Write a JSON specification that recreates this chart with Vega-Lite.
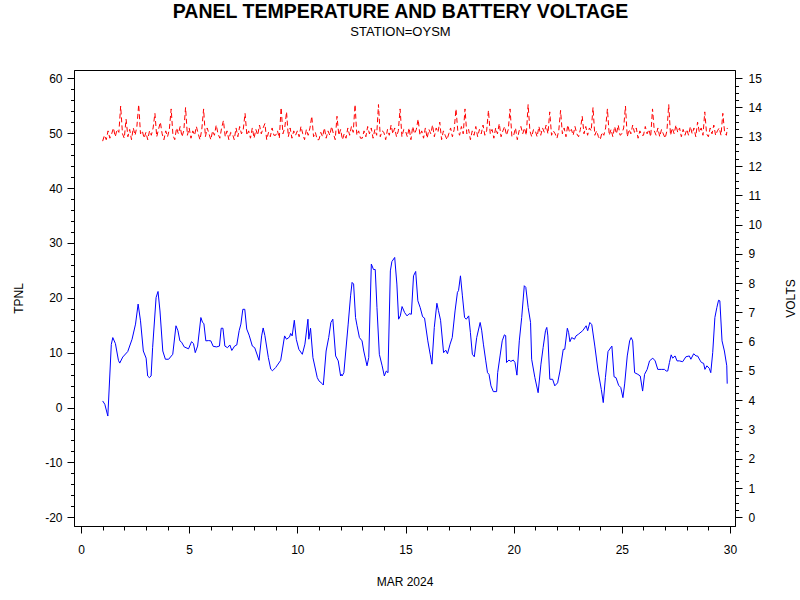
{
"$schema": "https://vega.github.io/schema/vega-lite/v6.json",
"width": 661,
"height": 456,
"autosize": {"type": "none"},
"padding": {"left": 74, "top": 70, "right": 65, "bottom": 74},
"background": "white",
"title": {"text": "PANEL TEMPERATURE AND BATTERY VOLTAGE", "subtitle": "STATION=OYSM", "font": "Liberation Sans", "fontSize": 19.5, "fontWeight": "bold", "color": "black", "subtitleFont": "Liberation Sans", "subtitleFontSize": 13, "subtitleColor": "black", "anchor": "middle", "offset": 30, "subtitlePadding": 4, "dx": -4},
"config": {
  "view": {"stroke": "black", "strokeWidth": 1},
  "axis": {"grid": false, "domainColor": "black", "domainWidth": 1, "tickColor": "black", "tickWidth": 1, "labelColor": "black", "labelFont": "Liberation Sans", "labelFontSize": 12, "titleFont": "Liberation Sans", "titleFontSize": 12, "titleFontWeight": "normal", "titleColor": "black", "labelOverlap": false, "labelFlush": false, "labelBound": false}
},
"datasets": {
"temp": [
{"d":1.0,"t":1.2},{"d":1.1,"t":0.6},{"d":1.24,"t":-1.55},{"d":1.4,"t":11.5},{"d":1.47,"t":12.75},{"d":1.59,"t":11.65},{"d":1.73,"t":8.6},{"d":1.79,"t":8.1},{"d":1.93,"t":9.2},{"d":2.16,"t":10.2},{"d":2.36,"t":12.45},{"d":2.52,"t":15.2},{"d":2.64,"t":18.85},{"d":2.75,"t":15.8},{"d":2.88,"t":10.3},{"d":3.01,"t":9.0},{"d":3.08,"t":5.75},{"d":3.16,"t":5.45},{"d":3.24,"t":5.75},{"d":3.31,"t":10.9},{"d":3.47,"t":20.05},{"d":3.56,"t":21.15},{"d":3.65,"t":17.6},{"d":3.78,"t":10.3},{"d":3.9,"t":8.8},{"d":4.05,"t":8.8},{"d":4.24,"t":9.7},{"d":4.39,"t":14.9},{"d":4.48,"t":14.0},{"d":4.57,"t":12.15},{"d":4.65,"t":11.9},{"d":4.77,"t":11.05},{"d":4.97,"t":10.7},{"d":5.11,"t":12.0},{"d":5.2,"t":11.65},{"d":5.28,"t":10.0},{"d":5.39,"t":11.2},{"d":5.54,"t":16.4},{"d":5.62,"t":15.5},{"d":5.68,"t":15.3},{"d":5.77,"t":12.15},{"d":5.9,"t":12.2},{"d":6.0,"t":12.15},{"d":6.11,"t":11.15},{"d":6.27,"t":11.05},{"d":6.4,"t":11.2},{"d":6.48,"t":14.45},{"d":6.56,"t":14.45},{"d":6.65,"t":11.2},{"d":6.77,"t":10.9},{"d":6.88,"t":11.4},{"d":6.97,"t":10.4},{"d":7.1,"t":11.2},{"d":7.2,"t":11.4},{"d":7.31,"t":14.0},{"d":7.39,"t":15.2},{"d":7.48,"t":17.9},{"d":7.57,"t":17.9},{"d":7.66,"t":14.3},{"d":7.77,"t":13.2},{"d":7.92,"t":11.2},{"d":8.03,"t":10.9},{"d":8.23,"t":8.6},{"d":8.35,"t":13.05},{"d":8.42,"t":14.5},{"d":8.5,"t":13.1},{"d":8.66,"t":9.1},{"d":8.77,"t":7.0},{"d":8.85,"t":6.7},{"d":9.0,"t":7.3},{"d":9.23,"t":8.6},{"d":9.3,"t":10.3},{"d":9.41,"t":13.05},{"d":9.5,"t":12.45},{"d":9.64,"t":12.85},{"d":9.69,"t":13.5},{"d":9.76,"t":13.05},{"d":9.86,"t":15.9},{"d":9.95,"t":12.45},{"d":10.07,"t":10.6},{"d":10.23,"t":9.7},{"d":10.35,"t":11.55},{"d":10.49,"t":16.1},{"d":10.53,"t":12.45},{"d":10.61,"t":14.45},{"d":10.72,"t":9.1},{"d":10.92,"t":5.45},{"d":11.0,"t":4.85},{"d":11.15,"t":4.35},{"d":11.2,"t":4.1},{"d":11.33,"t":10.3},{"d":11.45,"t":12.75},{"d":11.55,"t":15.5},{"d":11.64,"t":16.1},{"d":11.77,"t":9.4},{"d":11.89,"t":8.5},{"d":12.0,"t":5.75},{"d":12.03,"t":6.05},{"d":12.07,"t":5.75},{"d":12.15,"t":6.35},{"d":12.35,"t":15.2},{"d":12.46,"t":20.35},{"d":12.53,"t":22.8},{"d":12.6,"t":22.5},{"d":12.69,"t":16.4},{"d":12.76,"t":14.9},{"d":12.87,"t":12.75},{"d":12.99,"t":12.15},{"d":13.07,"t":10.3},{"d":13.22,"t":7.6},{"d":13.3,"t":9.1},{"d":13.42,"t":26.15},{"d":13.52,"t":25.15},{"d":13.6,"t":25.15},{"d":13.68,"t":18.2},{"d":13.79,"t":9.7},{"d":13.92,"t":7.6},{"d":14.02,"t":5.75},{"d":14.11,"t":6.65},{"d":14.19,"t":6.35},{"d":14.3,"t":24.9},{"d":14.37,"t":26.6},{"d":14.5,"t":27.35},{"d":14.6,"t":22.5},{"d":14.68,"t":16.1},{"d":14.76,"t":16.7},{"d":14.84,"t":18.4},{"d":14.96,"t":17.3},{"d":15.07,"t":16.7},{"d":15.17,"t":17.1},{"d":15.27,"t":17.0},{"d":15.37,"t":24.0},{"d":15.47,"t":24.8},{"d":15.57,"t":19.45},{"d":15.68,"t":18.2},{"d":15.79,"t":16.55},{"d":15.88,"t":16.3},{"d":16.03,"t":12.15},{"d":16.14,"t":9.7},{"d":16.22,"t":7.9},{"d":16.33,"t":14.6},{"d":16.45,"t":19.0},{"d":16.52,"t":17.7},{"d":16.62,"t":15.9},{"d":16.76,"t":10.0},{"d":16.86,"t":10.45},{"d":16.94,"t":9.8},{"d":17.06,"t":11.55},{"d":17.16,"t":12.75},{"d":17.29,"t":17.6},{"d":17.4,"t":21.0},{"d":17.45,"t":21.3},{"d":17.54,"t":24.0},{"d":17.63,"t":20.35},{"d":17.73,"t":16.4},{"d":17.81,"t":16.1},{"d":17.92,"t":16.7},{"d":18.0,"t":13.65},{"d":18.09,"t":9.7},{"d":18.18,"t":9.25},{"d":18.29,"t":12.75},{"d":18.45,"t":15.5},{"d":18.52,"t":14.1},{"d":18.6,"t":11.55},{"d":18.71,"t":8.5},{"d":18.79,"t":6.35},{"d":18.86,"t":6.05},{"d":18.95,"t":3.95},{"d":19.06,"t":2.9},{"d":19.21,"t":2.9},{"d":19.26,"t":6.35},{"d":19.37,"t":9.4},{"d":19.47,"t":12.15},{"d":19.57,"t":13.25},{"d":19.63,"t":13.1},{"d":19.67,"t":8.2},{"d":19.78,"t":8.65},{"d":19.87,"t":8.4},{"d":19.98,"t":8.65},{"d":20.06,"t":8.2},{"d":20.15,"t":5.9},{"d":20.26,"t":12.15},{"d":20.37,"t":16.4},{"d":20.49,"t":22.2},{"d":20.56,"t":21.9},{"d":20.67,"t":18.2},{"d":20.78,"t":15.5},{"d":20.83,"t":8.8},{"d":20.98,"t":5.45},{"d":21.13,"t":2.7},{"d":21.26,"t":7.9},{"d":21.36,"t":10.9},{"d":21.47,"t":14.0},{"d":21.53,"t":14.6},{"d":21.58,"t":13.05},{"d":21.67,"t":5.15},{"d":21.8,"t":5.15},{"d":21.9,"t":3.95},{"d":22.03,"t":4.5},{"d":22.14,"t":6.65},{"d":22.29,"t":10.6},{"d":22.36,"t":10.6},{"d":22.48,"t":14.45},{"d":22.54,"t":13.65},{"d":22.6,"t":12.0},{"d":22.68,"t":12.75},{"d":22.81,"t":12.45},{"d":22.88,"t":13.05},{"d":22.99,"t":13.35},{"d":23.19,"t":14.0},{"d":23.35,"t":14.9},{"d":23.42,"t":14.0},{"d":23.52,"t":15.5},{"d":23.61,"t":15.1},{"d":23.75,"t":11.2},{"d":23.9,"t":6.65},{"d":24.05,"t":3.3},{"d":24.14,"t":0.9},{"d":24.24,"t":5.45},{"d":24.36,"t":10.2},{"d":24.51,"t":11.05},{"d":24.54,"t":11.2},{"d":24.64,"t":5.6},{"d":24.73,"t":5.45},{"d":24.85,"t":4.05},{"d":24.95,"t":3.65},{"d":25.05,"t":1.8},{"d":25.13,"t":4.3},{"d":25.25,"t":9.4},{"d":25.36,"t":12.15},{"d":25.43,"t":12.75},{"d":25.5,"t":12.15},{"d":25.59,"t":6.35},{"d":25.74,"t":6.05},{"d":25.85,"t":5.75},{"d":25.96,"t":3.0},{"d":26.05,"t":6.05},{"d":26.17,"t":6.95},{"d":26.28,"t":8.5},{"d":26.43,"t":9.0},{"d":26.54,"t":8.5},{"d":26.66,"t":6.95},{"d":26.82,"t":6.95},{"d":26.97,"t":6.95},{"d":27.05,"t":6.65},{"d":27.12,"t":6.65},{"d":27.2,"t":8.2},{"d":27.28,"t":9.6},{"d":27.35,"t":9.0},{"d":27.46,"t":9.4},{"d":27.55,"t":8.5},{"d":27.66,"t":8.5},{"d":27.81,"t":8.35},{"d":27.96,"t":9.25},{"d":28.12,"t":9.4},{"d":28.19,"t":8.8},{"d":28.32,"t":9.8},{"d":28.43,"t":9.4},{"d":28.5,"t":9.4},{"d":28.63,"t":8.5},{"d":28.68,"t":8.2},{"d":28.78,"t":8.05},{"d":28.84,"t":6.95},{"d":28.93,"t":7.6},{"d":29.04,"t":7.15},{"d":29.11,"t":6.35},{"d":29.2,"t":10.0},{"d":29.3,"t":16.4},{"d":29.39,"t":18.2},{"d":29.47,"t":19.55},{"d":29.53,"t":19.45},{"d":29.63,"t":12.15},{"d":29.74,"t":10.3},{"d":29.85,"t":7.6},{"d":29.87,"t":4.35}
],
"volt": [
{"d":1,"v":12.85},{"d":1.083,"v":13.05},{"d":1.167,"v":12.9},{"d":1.25,"v":13.2},{"d":1.333,"v":12.95},{"d":1.417,"v":13.1},{"d":1.5,"v":13.3},{"d":1.583,"v":13.0},{"d":1.667,"v":13.25},{"d":1.75,"v":13.15},{"d":1.833,"v":14.05},{"d":1.917,"v":13.1},
{"d":2,"v":12.95},{"d":2.083,"v":13.6},{"d":2.167,"v":13.0},{"d":2.25,"v":13.25},{"d":2.333,"v":12.9},{"d":2.417,"v":13.3},{"d":2.5,"v":13.05},{"d":2.583,"v":13.35},{"d":2.667,"v":14.1},{"d":2.75,"v":13.1},{"d":2.833,"v":13.2},{"d":2.917,"v":12.95},
{"d":3,"v":13.15},{"d":3.083,"v":12.9},{"d":3.167,"v":13.2},{"d":3.25,"v":13.05},{"d":3.333,"v":13.3},{"d":3.417,"v":13.8},{"d":3.5,"v":13.0},{"d":3.583,"v":13.25},{"d":3.667,"v":13.5},{"d":3.75,"v":13.1},{"d":3.833,"v":12.9},{"d":3.917,"v":13.2},
{"d":4,"v":13.0},{"d":4.083,"v":13.25},{"d":4.167,"v":13.95},{"d":4.25,"v":13.05},{"d":4.333,"v":12.9},{"d":4.417,"v":13.3},{"d":4.5,"v":13.1},{"d":4.583,"v":13.35},{"d":4.667,"v":13.0},{"d":4.75,"v":13.2},{"d":4.833,"v":14.0},{"d":4.917,"v":13.05},
{"d":5,"v":13.3},{"d":5.083,"v":12.95},{"d":5.167,"v":13.2},{"d":5.25,"v":13.05},{"d":5.333,"v":13.35},{"d":5.417,"v":13.1},{"d":5.5,"v":12.9},{"d":5.583,"v":13.25},{"d":5.667,"v":13.95},{"d":5.75,"v":13.0},{"d":5.833,"v":13.3},{"d":5.917,"v":13.1},
{"d":6,"v":12.9},{"d":6.083,"v":13.2},{"d":6.167,"v":13.05},{"d":6.25,"v":13.4},{"d":6.333,"v":13.1},{"d":6.417,"v":12.95},{"d":6.5,"v":13.3},{"d":6.583,"v":13.55},{"d":6.667,"v":13.0},{"d":6.75,"v":13.2},{"d":6.833,"v":12.9},{"d":6.917,"v":13.15},
{"d":7,"v":13.1},{"d":7.083,"v":12.9},{"d":7.167,"v":13.3},{"d":7.25,"v":13.0},{"d":7.333,"v":13.35},{"d":7.417,"v":13.1},{"d":7.5,"v":13.25},{"d":7.583,"v":13.8},{"d":7.667,"v":13.05},{"d":7.75,"v":13.2},{"d":7.833,"v":12.95},{"d":7.917,"v":13.3},
{"d":8,"v":12.95},{"d":8.083,"v":13.25},{"d":8.167,"v":13.05},{"d":8.25,"v":13.4},{"d":8.333,"v":13.1},{"d":8.417,"v":13.3},{"d":8.5,"v":13.45},{"d":8.583,"v":12.9},{"d":8.667,"v":13.15},{"d":8.75,"v":13.0},{"d":8.833,"v":13.3},{"d":8.917,"v":13.05},
{"d":9,"v":13.05},{"d":9.083,"v":13.2},{"d":9.167,"v":12.95},{"d":9.25,"v":14.0},{"d":9.333,"v":13.1},{"d":9.417,"v":13.3},{"d":9.5,"v":13.85},{"d":9.583,"v":13.0},{"d":9.667,"v":13.3},{"d":9.75,"v":12.95},{"d":9.833,"v":13.2},{"d":9.917,"v":13.05},
{"d":10,"v":13.2},{"d":10.083,"v":13.0},{"d":10.167,"v":13.35},{"d":10.25,"v":13.1},{"d":10.333,"v":12.9},{"d":10.417,"v":13.25},{"d":10.5,"v":13.05},{"d":10.583,"v":13.3},{"d":10.667,"v":13.7},{"d":10.75,"v":13.0},{"d":10.833,"v":13.15},{"d":10.917,"v":12.9},
{"d":11,"v":12.9},{"d":11.083,"v":13.15},{"d":11.167,"v":13.0},{"d":11.25,"v":13.3},{"d":11.333,"v":12.95},{"d":11.417,"v":13.2},{"d":11.5,"v":13.05},{"d":11.583,"v":13.35},{"d":11.667,"v":13.1},{"d":11.75,"v":12.9},{"d":11.833,"v":13.7},{"d":11.917,"v":13.05},
{"d":12,"v":13.25},{"d":12.083,"v":12.9},{"d":12.167,"v":13.1},{"d":12.25,"v":12.95},{"d":12.333,"v":13.3},{"d":12.417,"v":13.05},{"d":12.5,"v":13.35},{"d":12.583,"v":13.15},{"d":12.667,"v":14.1},{"d":12.75,"v":13.05},{"d":12.833,"v":13.2},{"d":12.917,"v":12.95},
{"d":13,"v":12.95},{"d":13.083,"v":13.2},{"d":13.167,"v":13.0},{"d":13.25,"v":13.35},{"d":13.333,"v":13.1},{"d":13.417,"v":13.3},{"d":13.5,"v":12.95},{"d":13.583,"v":13.25},{"d":13.667,"v":13.05},{"d":13.75,"v":14.1},{"d":13.833,"v":13.0},{"d":13.917,"v":13.2},
{"d":14,"v":13.15},{"d":14.083,"v":12.9},{"d":14.167,"v":13.25},{"d":14.25,"v":13.05},{"d":14.333,"v":13.4},{"d":14.417,"v":13.1},{"d":14.5,"v":13.3},{"d":14.583,"v":13.0},{"d":14.667,"v":13.2},{"d":14.75,"v":13.95},{"d":14.833,"v":13.0},{"d":14.917,"v":13.25},
{"d":15,"v":13.2},{"d":15.083,"v":13.0},{"d":15.167,"v":13.3},{"d":15.25,"v":12.9},{"d":15.333,"v":13.35},{"d":15.417,"v":13.1},{"d":15.5,"v":13.25},{"d":15.583,"v":13.6},{"d":15.667,"v":13.05},{"d":15.75,"v":13.2},{"d":15.833,"v":12.95},{"d":15.917,"v":13.3},
{"d":16,"v":12.95},{"d":16.083,"v":13.25},{"d":16.167,"v":13.1},{"d":16.25,"v":13.4},{"d":16.333,"v":13.0},{"d":16.417,"v":13.3},{"d":16.5,"v":13.15},{"d":16.583,"v":13.5},{"d":16.667,"v":12.9},{"d":16.75,"v":13.2},{"d":16.833,"v":13.05},{"d":16.917,"v":12.9},
{"d":17,"v":13.1},{"d":17.083,"v":13.3},{"d":17.167,"v":13.0},{"d":17.25,"v":13.25},{"d":17.333,"v":13.95},{"d":17.417,"v":13.2},{"d":17.5,"v":13.05},{"d":17.583,"v":13.35},{"d":17.667,"v":13.1},{"d":17.75,"v":13.95},{"d":17.833,"v":13.1},{"d":17.917,"v":13.25},
{"d":18,"v":12.9},{"d":18.083,"v":13.2},{"d":18.167,"v":13.05},{"d":18.25,"v":13.35},{"d":18.333,"v":13.0},{"d":18.417,"v":13.25},{"d":18.5,"v":13.1},{"d":18.583,"v":13.4},{"d":18.667,"v":13.05},{"d":18.75,"v":13.2},{"d":18.833,"v":13.9},{"d":18.917,"v":13.1},
{"d":19,"v":13.25},{"d":19.083,"v":12.95},{"d":19.167,"v":13.3},{"d":19.25,"v":13.1},{"d":19.333,"v":13.45},{"d":19.417,"v":13.0},{"d":19.5,"v":13.2},{"d":19.583,"v":13.35},{"d":19.667,"v":13.05},{"d":19.75,"v":13.25},{"d":19.833,"v":13.95},{"d":19.917,"v":13.0},
{"d":20,"v":13.05},{"d":20.083,"v":13.3},{"d":20.167,"v":12.9},{"d":20.25,"v":13.2},{"d":20.333,"v":13.35},{"d":20.417,"v":13.1},{"d":20.5,"v":13.3},{"d":20.583,"v":13.05},{"d":20.667,"v":14.1},{"d":20.75,"v":13.2},{"d":20.833,"v":13.0},{"d":20.917,"v":13.25},
{"d":21,"v":13.2},{"d":21.083,"v":13.0},{"d":21.167,"v":13.35},{"d":21.25,"v":13.05},{"d":21.333,"v":13.3},{"d":21.417,"v":13.15},{"d":21.5,"v":13.4},{"d":21.583,"v":13.1},{"d":21.667,"v":13.85},{"d":21.75,"v":13.05},{"d":21.833,"v":13.2},{"d":21.917,"v":13.1},
{"d":22,"v":12.95},{"d":22.083,"v":13.2},{"d":22.167,"v":13.9},{"d":22.25,"v":13.1},{"d":22.333,"v":13.3},{"d":22.417,"v":13.0},{"d":22.5,"v":13.4},{"d":22.583,"v":13.15},{"d":22.667,"v":13.25},{"d":22.75,"v":13.05},{"d":22.833,"v":13.35},{"d":22.917,"v":13.1},
{"d":23,"v":13.0},{"d":23.083,"v":13.25},{"d":23.167,"v":13.7},{"d":23.25,"v":13.1},{"d":23.333,"v":13.35},{"d":23.417,"v":13.05},{"d":23.5,"v":13.3},{"d":23.583,"v":13.2},{"d":23.667,"v":14.0},{"d":23.75,"v":13.05},{"d":23.833,"v":13.2},{"d":23.917,"v":13.0},
{"d":24,"v":12.9},{"d":24.083,"v":13.15},{"d":24.167,"v":13.05},{"d":24.25,"v":13.3},{"d":24.333,"v":13.95},{"d":24.417,"v":13.05},{"d":24.5,"v":13.25},{"d":24.583,"v":13.0},{"d":24.667,"v":13.35},{"d":24.75,"v":13.1},{"d":24.833,"v":13.4},{"d":24.917,"v":13.05},
{"d":25,"v":13.1},{"d":25.083,"v":13.3},{"d":25.167,"v":14.05},{"d":25.25,"v":13.0},{"d":25.333,"v":13.25},{"d":25.417,"v":13.1},{"d":25.5,"v":13.4},{"d":25.583,"v":13.15},{"d":25.667,"v":13.3},{"d":25.75,"v":12.95},{"d":25.833,"v":13.2},{"d":25.917,"v":13.05},
{"d":26,"v":13.05},{"d":26.083,"v":13.35},{"d":26.167,"v":13.1},{"d":26.25,"v":13.25},{"d":26.333,"v":13.0},{"d":26.417,"v":13.95},{"d":26.5,"v":13.2},{"d":26.583,"v":13.05},{"d":26.667,"v":13.3},{"d":26.75,"v":13.0},{"d":26.833,"v":13.25},{"d":26.917,"v":13.1},
{"d":27,"v":12.95},{"d":27.083,"v":13.2},{"d":27.167,"v":14.1},{"d":27.25,"v":13.05},{"d":27.333,"v":13.3},{"d":27.417,"v":13.1},{"d":27.5,"v":13.4},{"d":27.583,"v":13.15},{"d":27.667,"v":13.3},{"d":27.75,"v":13.0},{"d":27.833,"v":13.25},{"d":27.917,"v":13.05},
{"d":28,"v":13.25},{"d":28.083,"v":13.05},{"d":28.167,"v":13.35},{"d":28.25,"v":13.1},{"d":28.333,"v":13.3},{"d":28.417,"v":13.0},{"d":28.5,"v":13.5},{"d":28.583,"v":13.15},{"d":28.667,"v":13.3},{"d":28.75,"v":13.05},{"d":28.833,"v":13.85},{"d":28.917,"v":13.1},
{"d":29,"v":13.0},{"d":29.083,"v":13.3},{"d":29.167,"v":13.1},{"d":29.25,"v":13.4},{"d":29.333,"v":13.05},{"d":29.417,"v":13.2},{"d":29.5,"v":13.3},{"d":29.583,"v":13.05},{"d":29.667,"v":13.8},{"d":29.75,"v":13.15},{"d":29.833,"v":13.05},{"d":29.875,"v":13.3}
]
},
"encoding": {
  "x": {"field": "d", "type": "quantitative", "scale": {"domain": [-0.324, 30.23], "nice": false, "zero": false},
    "axis": {"title": "MAR 2024", "values": [0,1,2,3,4,5,6,7,8,9,10,11,12,13,14,15,16,17,18,19,20,21,22,23,24,25,26,27,28,29,30],
      "labelExpr": "datum.value % 5 === 0 ? '' + datum.value : ''",
      "labelOverlap": false, "labelFlush": false,
      "tickSize": {"condition": {"test": "datum.value % 5 === 0", "value": 7}, "value": 4},
      "labelPadding": 11, "titleY": 55, "titleBaseline": "middle"}}
},
"layer": [
  {
    "data": {"name": "temp"},
    "mark": {"type": "line", "color": "#0000FF", "strokeWidth": 1},
    "encoding": {
      "y": {"field": "t", "type": "quantitative", "scale": {"domain": [-21.59, 61.51], "nice": false, "zero": false},
        "axis": {"title": "TPNL", "orient": "left", "values": [-20,-18,-16,-14,-12,-10,-8,-6,-4,-2,0,2,4,6,8,10,12,14,16,18,20,22,24,26,28,30,32,34,36,38,40,42,44,46,48,50,52,54,56,58,60],
          "labelExpr": "datum.value % 10 === 0 ? '' + datum.value : ''",
          "labelOverlap": false,
          "tickSize": {"condition": {"test": "datum.value % 10 === 0", "value": 7}, "value": 3.5},
          "labelPadding": 5, "titleX": -56, "titleY": 228, "titleAngle": 270, "titleAlign": "center", "titleBaseline": "middle"}}
    }
  },
  {
    "data": {"name": "volt"},
    "mark": {"type": "line", "color": "#FF0000", "strokeWidth": 1, "strokeDash": [5, 3]},
    "encoding": {
      "y": {"field": "v", "type": "quantitative", "scale": {"domain": [-0.297, 15.28], "nice": false, "zero": false},
        "axis": {"title": "VOLTS", "orient": "right", "values": [0,0.25,0.5,0.75,1,1.25,1.5,1.75,2,2.25,2.5,2.75,3,3.25,3.5,3.75,4,4.25,4.5,4.75,5,5.25,5.5,5.75,6,6.25,6.5,6.75,7,7.25,7.5,7.75,8,8.25,8.5,8.75,9,9.25,9.5,9.75,10,10.25,10.5,10.75,11,11.25,11.5,11.75,12,12.25,12.5,12.75,13,13.25,13.5,13.75,14,14.25,14.5,14.75,15],
          "labelExpr": "datum.value % 1 === 0 ? '' + datum.value : ''",
          "labelOverlap": false,
          "tickSize": {"condition": {"test": "datum.value % 1 === 0", "value": 7}, "value": 3.5},
          "labelPadding": 6, "titleX": 55, "titleY": 228, "titleAngle": 270, "titleAlign": "center", "titleBaseline": "middle"}}
    }
  }
],
"resolve": {"scale": {"y": "independent"}}
}
